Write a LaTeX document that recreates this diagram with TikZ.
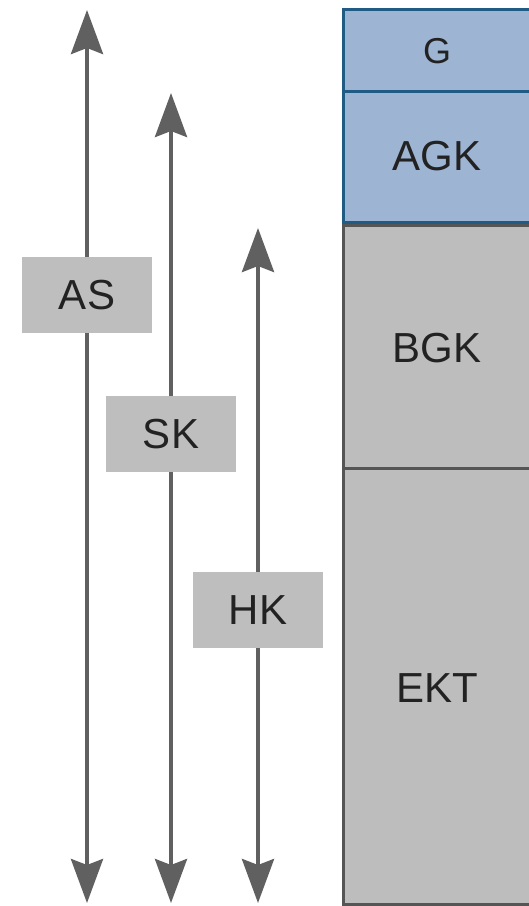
\documentclass[tikz,border=0pt]{standalone}
\usepackage{fontspec}
\setmainfont{Liberation Sans}
\usetikzlibrary{arrows.meta}
\definecolor{bandblue}{HTML}{9DB4D3}
\definecolor{edgeblue}{HTML}{1F5B82}
\definecolor{bandgray}{HTML}{BDBDBD}
\definecolor{edgegray}{HTML}{555555}
\definecolor{lblgray}{HTML}{BEBEBE}
\definecolor{arrgray}{HTML}{606060}
\definecolor{inkdark}{HTML}{222222}

\begin{document}
\begin{tikzpicture}[
  x=1pt, y=-1pt,
  font=\fontsize{42}{48}\selectfont,
  band/.style={anchor=north west, minimum width=195pt, inner sep=0pt,
               line width=3pt, text=inkdark},
  blueband/.style={band, draw=edgeblue, fill=bandblue},
  grayband/.style={band, draw=edgegray, fill=bandgray},
  lbl/.style={fill=lblgray, text=inkdark, inner sep=0pt,
              minimum width=130pt, minimum height=76pt},
  arr/.style={{Stealth[length=44pt, width=32pt, inset=6pt]}-{Stealth[length=44pt, width=32pt, inset=6pt]},
              line width=4pt, draw=arrgray, fill=arrgray}
]
\clip (0,0) rectangle (529,906);
\fill[white] (0,0) rectangle (529,906);

% layer column on the right
\node[grayband, minimum height=436pt] (ekt) at (342,467) {};
\node[grayband, minimum height=243.5pt] (bgk) at (342,223.5) {};
\node[blueband, minimum height=131pt] (agk) at (342,90) {};
\node[blueband, minimum height=82pt] (g) at (342,8) {};
\node[text=inkdark, font=\fontsize{36}{42}\selectfont] (gtxt) at (437,51) {G};
\node[text=inkdark] (agktxt) at (437,156) {AGK};
\node[text=inkdark] (bgktxt) at (437,348) {BGK};
\node[text=inkdark] (ekttxt) at (437,688) {EKT};

% arrow ends
\coordinate (astop) at (87,10);
\coordinate (asbot) at (87,903);
\coordinate (sktop) at (171,93);
\coordinate (skbot) at (171,903);
\coordinate (hktop) at (258,228);
\coordinate (hkbot) at (258,903);

\draw[arr] (astop) -- (asbot);
\draw[arr] (sktop) -- (skbot);
\draw[arr] (hktop) -- (hkbot);

% labels sit on top of the arrows
\node[lbl] (as) at (87,295) {AS};
\node[lbl] (sk) at (171,434) {SK};
\node[lbl] (hk) at (258,610) {HK};
\end{tikzpicture}
\end{document}
